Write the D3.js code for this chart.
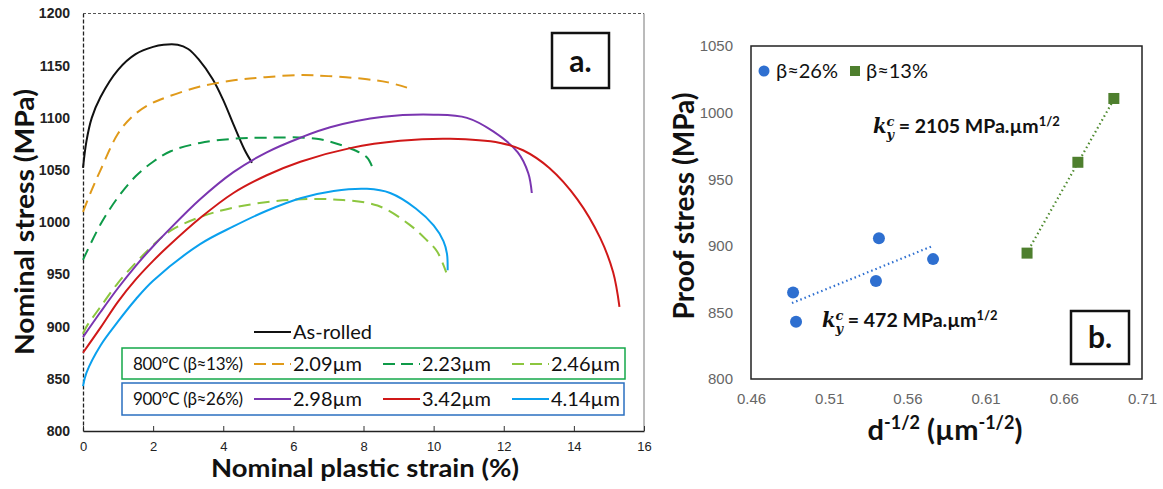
<!DOCTYPE html>
<html>
<head>
<meta charset="utf-8">
<script src="https://cdn.jsdelivr.net/npm/d3@7"></script>
<style>
  body { margin: 0; background: #fff; }
  svg { font-family: Lato, "Open Sans", sans-serif; }
</style>
</head>
<body>
<svg id="chart" width="1163" height="489"></svg>
<script>
// ---- panel a: stress-strain curves ----
const asRolledX = [0, 0.1, 0.25, 0.5, 1, 1.5, 2, 2.3, 2.7, 3, 3.3, 3.7, 4.0, 4.3, 4.6, 4.82];
const asRolledY = [1052, 1078, 1100, 1120, 1146, 1161, 1168, 1170, 1170, 1166, 1156, 1137, 1117, 1093, 1070, 1057];

const g209X = [0, 0.25, 0.5, 1, 1.43, 1.9, 2.4, 3.34, 4.3, 5.2, 6.2, 7, 8.1, 8.7, 9.24];
const g209Y = [1010, 1031, 1050, 1085, 1102, 1113, 1120, 1130, 1136, 1139, 1141, 1140, 1137, 1134, 1129];

const g223X = [0, 0.5, 1, 1.5, 2, 2.5, 3.34, 4.3, 5.24, 6.66, 7.6, 8.1, 8.28];
const g223Y = [964, 998, 1024, 1044, 1058, 1068, 1076, 1080, 1081, 1080, 1071, 1062, 1050];

const g246X = [0, 0.1, 0.5, 1, 1.5, 2, 2.5, 3.34, 4.29, 5.7, 7.05, 8.4, 9.3, 9.8, 10.1, 10.36];
const g246Y = [893, 900, 919, 942, 961, 978, 992, 1005, 1014, 1021, 1022, 1016, 998, 983, 972, 952];

const g298X = [0, 0.5, 1, 1.5, 2, 2.4, 3.34, 4.29, 5.24, 6.2, 7.05, 8.57, 10, 10.95, 11.7, 12.4, 12.7, 12.8];
const g298Y = [890, 914, 937, 958, 977, 991, 1022, 1048, 1067, 1081, 1091, 1101, 1103, 1100, 1087, 1067, 1047, 1028];

const g342X = [0, 0.5, 1, 1.5, 2, 2.4, 3.34, 4.29, 5.24, 6.2, 7.62, 9.04, 10.47, 11.9, 12.55, 13.3, 14.1, 14.75, 15.12, 15.3];
const g342Y = [875, 899, 924, 945, 963, 976, 1004, 1028, 1045, 1058, 1071, 1078, 1080, 1076, 1069, 1052, 1022, 985, 952, 919];

const g414X = [0, 0.1, 0.5, 1, 1.5, 2, 3.34, 4.29, 5.24, 6.2, 7.15, 8.1, 8.76, 9.5, 10, 10.28, 10.38, 10.4];
const g414Y = [843, 856, 882, 905, 926, 944, 979, 996, 1011, 1023, 1030, 1032, 1028, 1013, 997, 982, 970, 954];

const strainTicks = [0, 2, 4, 6, 8, 10, 12, 14, 16];
const stressTicks = [800, 850, 900, 950, 1000, 1050, 1100, 1150, 1200];

const seriesA = [
  {name: 'As-rolled', xs: asRolledX, ys: asRolledY, color: '#111111', dash: null},
  {name: '2.09µm', xs: g209X, ys: g209Y, color: '#E09A1A', dash: '12,7'},
  {name: '2.23µm', xs: g223X, ys: g223Y, color: '#0E9A48', dash: '12,7'},
  {name: '2.46µm', xs: g246X, ys: g246Y, color: '#8CC63F', dash: '12,7'},
  {name: '2.98µm', xs: g298X, ys: g298Y, color: '#7A35B0', dash: null},
  {name: '3.42µm', xs: g342X, ys: g342Y, color: '#D01818', dash: null},
  {name: '4.14µm', xs: g414X, ys: g414Y, color: '#0AA0EE', dash: null}
];

// ---- panel b: Hall-Petch ----
const b26X = [0.4869, 0.4888, 0.5399, 0.5418, 0.5764];
const b26Y = [865, 843, 873.5, 905.7, 890];
const b13X = [0.6365, 0.669, 0.692];
const b13Y = [894.5, 962.7, 1010.6];
const trend26X = [0.4862, 0.5764];
const trend26Y = [857, 900];
const trend13X = [0.6375, 0.693];
const trend13Y = [897, 1012];
const dTicks = [0.46, 0.51, 0.56, 0.61, 0.66, 0.71];
const proofTicks = [800, 850, 900, 950, 1000, 1050];

const svg = d3.select('#chart');

// ================= panel a =================
const ax = d3.scaleLinear().domain([0, 16]).range([83, 644]);
const ay = d3.scaleLinear().domain([800, 1200]).range([431, 13.5]);

const pa = svg.append('g');

// frame: top dashed grey, right solid grey
pa.append('line').attr('x1', ax(0)).attr('x2', ax(16)).attr('y1', ay(1200)).attr('y2', ay(1200))
  .attr('stroke', '#555').attr('stroke-width', 1).attr('stroke-dasharray', '3,2');
pa.append('line').attr('x1', ax(16)).attr('x2', ax(16)).attr('y1', ay(1200)).attr('y2', ay(800))
  .attr('stroke', '#777').attr('stroke-width', 1);

const axB = d3.axisBottom(ax).tickValues(strainTicks).tickSizeInner(-5).tickSizeOuter(0).tickPadding(11);
const axL = d3.axisLeft(ay).tickValues(stressTicks).tickSize(0).tickPadding(13).tickFormat(d => d);

const gxa = pa.append('g').attr('transform', `translate(0,${ay(800)})`).call(axB);
gxa.select('.domain').attr('stroke', '#222').attr('stroke-width', 1.3);
gxa.selectAll('.tick line').attr('stroke', '#333');
gxa.selectAll('text').attr('font-size', 13).attr('fill', '#222');

const gya = pa.append('g').attr('transform', `translate(${ax(0)},0)`).call(axL);
gya.select('.domain').attr('stroke', '#222').attr('stroke-width', 1.3).attr('stroke-dasharray', '4,2');
gya.selectAll('text').attr('font-size', 14).attr('font-weight', 600).attr('fill', '#222');

const lineA = d3.line().x(d => ax(d[0])).y(d => ay(d[1])).curve(d3.curveCatmullRom.alpha(0.5));
seriesA.forEach(s => {
  pa.append('path')
    .datum(d3.zip(s.xs, s.ys))
    .attr('d', lineA)
    .attr('fill', 'none')
    .attr('stroke', s.color)
    .attr('stroke-width', 2)
    .attr('stroke-dasharray', s.dash);
});

// axis titles
pa.append('text')
  .attr('transform', `translate(34,222) rotate(-90)`)
  .attr('text-anchor', 'middle')
  .attr('font-size', 26).attr('font-weight', 'bold').attr('fill', '#111')
  .attr('textLength', 266).attr('lengthAdjust', 'spacingAndGlyphs')
  .text('Nominal stress (MPa)');
pa.append('text')
  .attr('x', 365).attr('y', 477)
  .attr('text-anchor', 'middle')
  .attr('font-size', 25).attr('font-weight', 'bold').attr('fill', '#111')
  .attr('textLength', 308).attr('lengthAdjust', 'spacingAndGlyphs')
  .text('Nominal plastic strain (%)');

// "a." label
pa.append('rect').attr('x', 552).attr('y', 33).attr('width', 57).attr('height', 55)
  .attr('fill', '#fff').attr('stroke', '#111').attr('stroke-width', 2.5);
pa.append('text').attr('x', 580.5).attr('y', 72).attr('text-anchor', 'middle')
  .attr('font-size', 30).attr('font-weight', 'bold').attr('fill', '#111').text('a.');

// legend
function legendLine(g, x, y, s) {
  g.append('line').attr('x1', x).attr('x2', x + 37).attr('y1', y).attr('y2', y)
    .attr('stroke', s.color).attr('stroke-width', 2).attr('stroke-dasharray', s.dash ? '12,6' : null);
  g.append('text').attr('x', x + 39).attr('y', y + 7).attr('font-size', 20).attr('fill', '#111').text(s.name);
}
const leg = pa.append('g');
legendLine(leg, 254, 332, seriesA[0]);
leg.append('rect').attr('x', 122).attr('y', 348).attr('width', 503).attr('height', 31)
  .attr('fill', '#fff').attr('stroke', '#14A84A').attr('stroke-width', 1.5);
leg.append('rect').attr('x', 122).attr('y', 383).attr('width', 502).attr('height', 32)
  .attr('fill', '#fff').attr('stroke', '#2A6FC0').attr('stroke-width', 1.5);
leg.append('text').attr('x', 133).attr('y', 370).attr('font-size', 17).attr('fill', '#111')
  .attr('textLength', 110).text('800°C (β≈13%)');
leg.append('text').attr('x', 133).attr('y', 405).attr('font-size', 17).attr('fill', '#111')
  .attr('textLength', 110).text('900°C (β≈26%)');
const legX = [254, 383, 512];
[1, 2, 3].forEach((k, i) => legendLine(leg, legX[i], 364, seriesA[k]));
[4, 5, 6].forEach((k, i) => legendLine(leg, legX[i], 399, seriesA[k]));

// ================= panel b =================
const bx = d3.scaleLinear().domain([0.46, 0.71]).range([751, 1142]);
const by = d3.scaleLinear().domain([800, 1050]).range([379, 46]);
const pb = svg.append('g');

const axBb = d3.axisBottom(bx).tickValues(dTicks).tickSize(0).tickPadding(14).tickFormat(d3.format('.2f'));
const axLb = d3.axisLeft(by).tickValues(proofTicks).tickSize(0).tickPadding(18).tickFormat(d => d);
const gxb = pb.append('g').attr('transform', `translate(0,${by(800)})`).call(axBb);
gxb.select('.domain').remove();
gxb.selectAll('text').attr('font-size', 15).attr('fill', '#666');
const gyb = pb.append('g').attr('transform', `translate(${bx(0.46)},0)`).call(axLb);
gyb.select('.domain').remove();
gyb.selectAll('text').attr('font-size', 15).attr('fill', '#666');

pb.append('rect').attr('x', bx(0.46)).attr('y', by(1050))
  .attr('width', bx(0.71) - bx(0.46)).attr('height', by(800) - by(1050))
  .attr('fill', 'none').attr('stroke', '#222').attr('stroke-width', 1.5);

// trend lines
pb.append('line')
  .attr('x1', bx(trend26X[0])).attr('y1', by(trend26Y[0])).attr('x2', bx(trend26X[1])).attr('y2', by(trend26Y[1]))
  .attr('stroke', '#2E6FD0').attr('stroke-width', 2.2).attr('stroke-dasharray', '1.5,3');
pb.append('line')
  .attr('x1', bx(trend13X[0])).attr('y1', by(trend13Y[0])).attr('x2', bx(trend13X[1])).attr('y2', by(trend13Y[1]))
  .attr('stroke', '#4E8A2E').attr('stroke-width', 2.2).attr('stroke-dasharray', '1.5,3');

// points
pb.selectAll('circle.p26').data(d3.zip(b26X, b26Y)).join('circle')
  .attr('class', 'p26').attr('cx', d => bx(d[0])).attr('cy', d => by(d[1])).attr('r', 6)
  .attr('fill', '#2E6FD0');
pb.selectAll('rect.p13').data(d3.zip(b13X, b13Y)).join('rect')
  .attr('class', 'p13').attr('x', d => bx(d[0]) - 5.5).attr('y', d => by(d[1]) - 5.5)
  .attr('width', 11).attr('height', 11).attr('fill', '#4E7F2E');

// legend
pb.append('circle').attr('cx', 764).attr('cy', 71).attr('r', 5.5).attr('fill', '#2E6FD0');
pb.append('text').attr('x', 776).attr('y', 78).attr('font-size', 20).attr('fill', '#111').text('β≈26%');
pb.append('rect').attr('x', 850).attr('y', 66).attr('width', 10).attr('height', 10).attr('fill', '#4E7F2E');
pb.append('text').attr('x', 866).attr('y', 78).attr('font-size', 20).attr('fill', '#111').text('β≈13%');

// k annotations
function kLabel(x, y, value) {
  const t = pb.append('text').attr('x', x).attr('y', y).attr('font-size', 19.5).attr('font-weight', 'bold').attr('fill', '#111');
  t.append('tspan').attr('font-family', '"DejaVu Serif", serif').attr('font-style', 'italic').text('k');
  t.append('tspan').attr('font-family', '"DejaVu Serif", serif').attr('font-style', 'italic')
    .attr('font-size', 13).attr('dy', -7).text('c');
  t.append('tspan').attr('font-family', '"DejaVu Serif", serif').attr('font-style', 'italic')
    .attr('font-size', 13).attr('dx', -8).attr('dy', 13).text('y');
  t.append('tspan').attr('dy', -6).text(' = ' + value + ' MPa.µm');
  t.append('tspan').attr('font-size', 13).attr('dy', -7).text('1/2');
}
kLabel(873, 133, '2105');
kLabel(822, 327, '472');

// axis titles
pb.append('text')
  .attr('transform', `translate(694,206) rotate(-90)`)
  .attr('text-anchor', 'middle')
  .attr('font-size', 28).attr('font-weight', 'bold').attr('fill', '#111')
  .text('Proof stress (MPa)');
const xt = pb.append('text').attr('x', 945).attr('y', 440).attr('text-anchor', 'middle')
  .attr('font-size', 29).attr('font-weight', 'bold').attr('fill', '#111');
xt.append('tspan').text('d');
xt.append('tspan').attr('font-size', 18).attr('dy', -11).text('-1/2');
xt.append('tspan').attr('dy', 11).text(' (µm');
xt.append('tspan').attr('font-size', 18).attr('dy', -11).text('-1/2');
xt.append('tspan').attr('dy', 11).text(')');

// "b." label
pb.append('rect').attr('x', 1071).attr('y', 311).attr('width', 58).attr('height', 53)
  .attr('fill', '#fff').attr('stroke', '#111').attr('stroke-width', 2.5);
pb.append('text').attr('x', 1100).attr('y', 348).attr('text-anchor', 'middle')
  .attr('font-size', 30).attr('font-weight', 'bold').attr('fill', '#111').text('b.');
</script>
</body>
</html>
